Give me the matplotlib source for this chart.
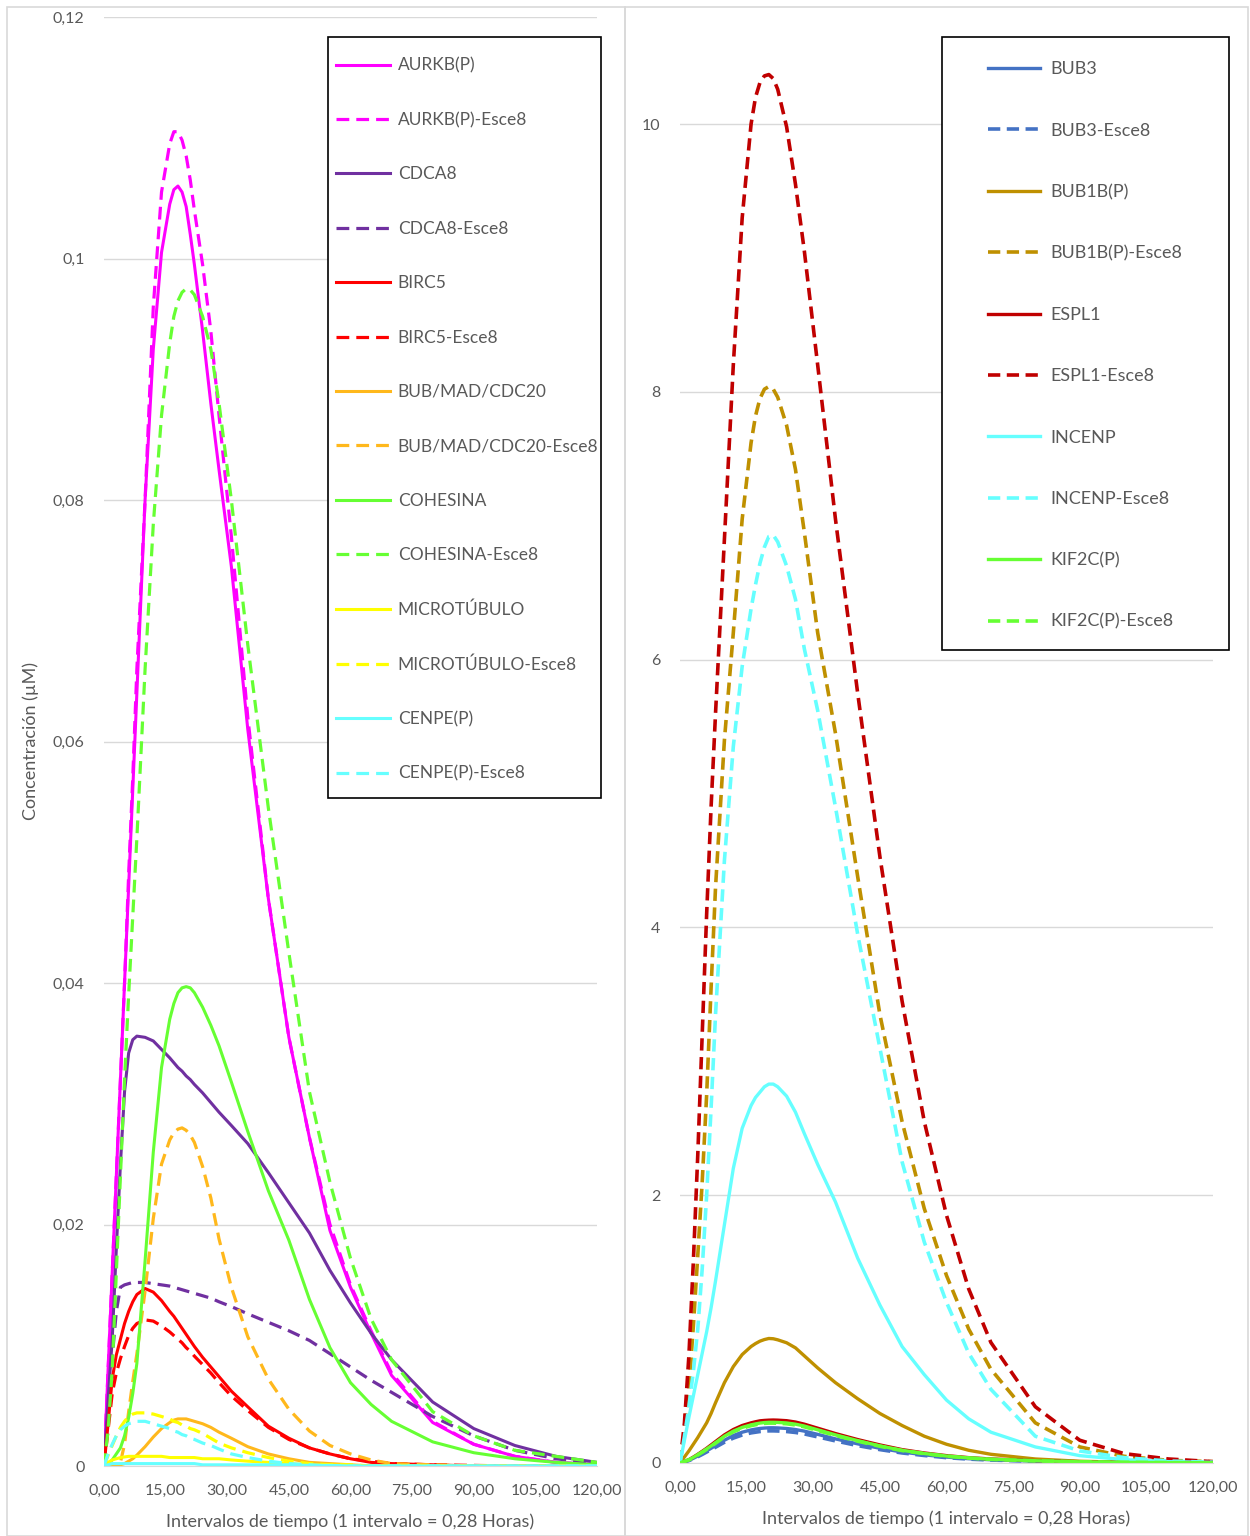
import matplotlib
matplotlib.use("Agg")
import matplotlib.pyplot as plt
from matplotlib.patches import Rectangle
from matplotlib.ticker import FuncFormatter, MultipleLocator

plt.rcParams['font.family'] = ['Lato', 'DejaVu Sans']

# time axis (intervals), shared by every series
t = [0, 1, 2, 3, 4, 5, 6, 7, 8, 10, 12, 14, 16, 17, 18, 19, 20, 21, 22, 24, 26, 28, 31, 35,
     40, 45, 50, 55, 60, 65, 70, 80, 90, 100, 110, 120]

# ---- left chart (µM) ----
aurkb = [0, 0.008, 0.016, 0.024, 0.032, 0.040, 0.048, 0.056, 0.064, 0.080, 0.0925, 0.1005, 0.1045, 0.1057,
         0.106, 0.1055, 0.1043, 0.102, 0.0995, 0.094, 0.088, 0.0825, 0.0745, 0.061,
         0.047, 0.0355, 0.0272, 0.0195, 0.0148, 0.011, 0.0075, 0.0036, 0.0018, 0.0008, 0.0003, 0.0001]
aurkb_e8 = [0, 0.008, 0.016, 0.024, 0.032, 0.040, 0.049, 0.057, 0.066, 0.080, 0.096, 0.1055, 0.1095, 0.1105,
            0.1105, 0.1098, 0.1085, 0.1065, 0.104, 0.0995, 0.094, 0.087, 0.077, 0.062,
            0.047, 0.0355, 0.0272, 0.020, 0.015, 0.0112, 0.0077, 0.0037, 0.0018, 0.0008, 0.0003, 0.0001]
cdca8 = [0, 0.0055, 0.0105, 0.018, 0.025, 0.031, 0.0342, 0.0353, 0.0356, 0.0355, 0.0352, 0.0345, 0.0338, 0.0334,
         0.033, 0.0327, 0.0323, 0.032, 0.0316, 0.0309, 0.0301, 0.0293, 0.0282, 0.0267,
         0.0243, 0.0218, 0.0193, 0.0162, 0.0135, 0.011, 0.0088, 0.0053, 0.0031, 0.0017, 0.0008, 0.0003]
cdca8_e8 = [0, 0.0045, 0.009, 0.0128, 0.0148, 0.015, 0.0151, 0.0152, 0.0152, 0.0152, 0.0151, 0.015, 0.0149, 0.0148,
            0.0147, 0.0146, 0.0145, 0.0144, 0.0143, 0.0141, 0.0139, 0.0136, 0.0132, 0.0126,
            0.0119, 0.0112, 0.0104, 0.0093, 0.0082, 0.0071, 0.0061, 0.0041, 0.0025, 0.0013, 0.0006, 0.0002]
birc5 = [0, 0.0035, 0.0072, 0.0092, 0.0105, 0.0118, 0.0128, 0.0136, 0.0142, 0.0147, 0.0144, 0.0137, 0.0128, 0.0124,
         0.0119, 0.0114, 0.0109, 0.0104, 0.0099, 0.009, 0.0082, 0.0074, 0.0062, 0.0049,
         0.0033, 0.0023, 0.0015, 0.001, 0.0006, 0.0003, 0.0002, 0.0001, 0, 0, 0, 0]
birc5_e8 = [0, 0.003, 0.006, 0.0077, 0.0089, 0.0099, 0.0108, 0.0114, 0.0118, 0.0121, 0.012, 0.0116, 0.0111, 0.0108,
            0.0105, 0.0102, 0.0098, 0.0095, 0.0091, 0.0084, 0.0077, 0.0069, 0.0058, 0.0046,
            0.0032, 0.0022, 0.0015, 0.001, 0.0006, 0.0004, 0.0002, 0.0001, 0.00005, 0, 0, 0]
bubmad = [0, 0, 0, 0, 0.0001, 0.0002, 0.0004, 0.0006, 0.0009, 0.0016, 0.0024, 0.0031, 0.0036, 0.0038,
          0.0039, 0.0039, 0.0039, 0.0038, 0.0037, 0.0035, 0.0032, 0.0028, 0.0023, 0.0016,
          0.001, 0.0006, 0.0003, 0.0002, 0.0001, 0, 0, 0, 0, 0, 0, 0]
bubmad_e8 = [0, 0, 0, 0, 0.0003, 0.0018, 0.0045, 0.007, 0.0093, 0.0145, 0.0205, 0.025, 0.027, 0.0276,
             0.0279, 0.028, 0.0278, 0.0274, 0.0268, 0.0248, 0.0222, 0.0188, 0.0148, 0.0107,
             0.0072, 0.0047, 0.0029, 0.0017, 0.001, 0.0005, 0.0002, 0.0001, 0, 0, 0, 0]
cohesina = [0, 0.0002, 0.0005, 0.001, 0.0015, 0.0025, 0.004, 0.006, 0.0085, 0.017, 0.026, 0.033, 0.037, 0.0383,
            0.0392, 0.0396, 0.0397, 0.0396, 0.0392, 0.038, 0.0365, 0.0348, 0.0318, 0.0277,
            0.0228, 0.0187, 0.0138, 0.0098, 0.0069, 0.0051, 0.0037, 0.002, 0.0011, 0.0006, 0.0003, 0.0001]
cohesina_e8 = [0, 0.003, 0.008, 0.016, 0.024, 0.032, 0.039, 0.0455, 0.052, 0.066, 0.078, 0.087, 0.093, 0.0952,
               0.0965, 0.0972, 0.0975, 0.0974, 0.097, 0.0952, 0.0925, 0.088, 0.080, 0.068,
               0.0545, 0.0425, 0.031, 0.0235, 0.0172, 0.0122, 0.0088, 0.0045, 0.0025, 0.0013, 0.0008, 0.0003]
microtubulo = [0, 0.0003, 0.0005, 0.0006, 0.0007, 0.00075, 0.0008, 0.0008, 0.0008, 0.0008, 0.0008, 0.0008, 0.0007, 0.0007,
               0.0007, 0.0007, 0.0007, 0.0007, 0.0007, 0.0006, 0.0006, 0.0006, 0.0005, 0.0004,
               0.0003, 0.0002, 0.0001, 0.0001, 0.00005, 0, 0, 0, 0, 0, 0, 0]
microtubulo_e8 = [0, 0.0009, 0.0017, 0.0025, 0.0032, 0.0037, 0.0041, 0.0043, 0.0044, 0.0044, 0.0043, 0.0041, 0.0039, 0.0037,
                  0.0036, 0.0034, 0.0033, 0.0031, 0.003, 0.0027, 0.0023, 0.0019, 0.0015, 0.0011,
                  0.0007, 0.0004, 0.0002, 0.0001, 0.0001, 0, 0, 0, 0, 0, 0, 0]
cenpe = [0, 0.0001, 0.0002, 0.0002, 0.0002, 0.0002, 0.0002, 0.0002, 0.0002, 0.0002, 0.0002, 0.0002, 0.0002, 0.0002,
         0.0002, 0.0002, 0.0002, 0.0002, 0.0002, 0.0001, 0.0001, 0.0001, 0.0001, 0.0001,
         0.0001, 0.0001, 0.00005, 0.00005, 0, 0, 0, 0, 0, 0, 0, 0]
cenpe_e8 = [0, 0.001, 0.0018, 0.0025, 0.003, 0.0033, 0.0035, 0.0036, 0.0037, 0.0037, 0.0035, 0.0033, 0.0031, 0.0029,
            0.0028, 0.0026, 0.0025, 0.0023, 0.0022, 0.0019, 0.0017, 0.0014, 0.001, 0.0007,
            0.0004, 0.0002, 0.0001, 0, 0, 0, 0, 0, 0, 0, 0, 0]

# ---- right chart ----
bub3 = [0, 0.01, 0.02, 0.035, 0.052, 0.07, 0.09, 0.11, 0.13, 0.17, 0.205, 0.23, 0.247, 0.253,
        0.258, 0.261, 0.263, 0.263, 0.262, 0.258, 0.25, 0.238, 0.214, 0.18,
        0.143, 0.11, 0.082, 0.061, 0.044, 0.032, 0.024, 0.014, 0.008, 0.004, 0.002, 0.001]
bub3_e8 = [0, 0.009, 0.018, 0.032, 0.047, 0.064, 0.082, 0.1, 0.118, 0.155, 0.186, 0.209, 0.225, 0.23,
           0.235, 0.238, 0.24, 0.24, 0.239, 0.235, 0.228, 0.217, 0.195, 0.165,
           0.13, 0.1, 0.075, 0.056, 0.04, 0.029, 0.022, 0.013, 0.007, 0.004, 0.002, 0.001]
bub1b = [0, 0.045, 0.09, 0.14, 0.19, 0.245, 0.3, 0.37, 0.45, 0.6, 0.72, 0.81, 0.87, 0.892,
         0.91, 0.922, 0.93, 0.928, 0.92, 0.898, 0.86, 0.8, 0.71, 0.6,
         0.48, 0.37, 0.28, 0.2, 0.14, 0.095, 0.065, 0.03, 0.013, 0.006, 0.003, 0.001]
bub1b_e8 = [0, 0.25, 0.55, 1.02, 1.55, 2.1, 2.75, 3.55, 4.3, 5.4, 6.2, 7.05, 7.62, 7.82,
            7.95, 8.02, 8.04, 8.02, 7.96, 7.75, 7.42, 6.95, 6.2, 5.45,
            4.38, 3.35, 2.55, 1.9, 1.4, 1.0, 0.7, 0.3, 0.12, 0.05, 0.02, 0.01]
espl1 = [0, 0.012, 0.025, 0.044, 0.065, 0.087, 0.11, 0.135, 0.16, 0.21, 0.25, 0.28, 0.3, 0.308,
         0.315, 0.318, 0.32, 0.321, 0.32, 0.316, 0.306, 0.29, 0.26, 0.22,
         0.175, 0.135, 0.1, 0.075, 0.055, 0.04, 0.03, 0.018, 0.01, 0.006, 0.004, 0.002]
espl1_e8 = [0, 0.3, 0.8, 1.5, 2.3, 3.2, 4.1, 4.9, 5.6, 6.9, 8.2, 9.3, 10.0, 10.2,
            10.31, 10.36, 10.37, 10.34, 10.26, 9.98, 9.55, 9.05, 8.2, 7.05,
            5.75, 4.53, 3.45, 2.55, 1.85, 1.3, 0.9, 0.42, 0.17, 0.07, 0.03, 0.01]
incenp = [0, 0.17, 0.34, 0.5, 0.66, 0.82, 0.98, 1.16, 1.36, 1.78, 2.2, 2.5, 2.67, 2.73,
          2.77, 2.81, 2.83, 2.83, 2.81, 2.74, 2.62, 2.46, 2.23, 1.95,
          1.53, 1.18, 0.87, 0.66, 0.47, 0.33, 0.23, 0.12, 0.055, 0.025, 0.01, 0.005]
incenp_e8 = [0, 0.2, 0.42, 0.68, 1.0, 1.45, 2.0, 2.65, 3.35, 4.5, 5.35, 5.95, 6.38, 6.56,
             6.72, 6.84, 6.92, 6.93, 6.88, 6.7, 6.45, 6.08, 5.62, 4.9,
             3.95, 3.1, 2.25, 1.65, 1.2, 0.82, 0.55, 0.2, 0.09, 0.04, 0.015, 0.005]
kif2c = [0, 0.012, 0.024, 0.042, 0.062, 0.083, 0.105, 0.128, 0.152, 0.2, 0.238, 0.266, 0.285, 0.292,
         0.298, 0.302, 0.304, 0.304, 0.303, 0.299, 0.29, 0.276, 0.248, 0.21,
         0.167, 0.128, 0.095, 0.071, 0.052, 0.038, 0.028, 0.017, 0.009, 0.005, 0.003, 0.002]
kif2c_e8 = [0, 0.011, 0.023, 0.04, 0.06, 0.08, 0.102, 0.125, 0.148, 0.195, 0.233, 0.26, 0.279, 0.286,
            0.292, 0.296, 0.298, 0.298, 0.297, 0.293, 0.284, 0.27, 0.243, 0.206,
            0.163, 0.125, 0.093, 0.07, 0.051, 0.037, 0.027, 0.016, 0.009, 0.005, 0.003, 0.002]

left_series = [
    ("AURKB(P)", aurkb, "#FF00FF", "-"),
    ("AURKB(P)-Esce8", aurkb_e8, "#FF00FF", "--"),
    ("CDCA8", cdca8, "#7030A0", "-"),
    ("CDCA8-Esce8", cdca8_e8, "#7030A0", "--"),
    ("BIRC5", birc5, "#FF0000", "-"),
    ("BIRC5-Esce8", birc5_e8, "#FF0000", "--"),
    ("BUB/MAD/CDC20", bubmad, "#FFB81C", "-"),
    ("BUB/MAD/CDC20-Esce8", bubmad_e8, "#FFB81C", "--"),
    ("COHESINA", cohesina, "#66FF33", "-"),
    ("COHESINA-Esce8", cohesina_e8, "#66FF33", "--"),
    ("MICROTÚBULO", microtubulo, "#FFFF00", "-"),
    ("MICROTÚBULO-Esce8", microtubulo_e8, "#FFFF00", "--"),
    ("CENPE(P)", cenpe, "#66FFFF", "-"),
    ("CENPE(P)-Esce8", cenpe_e8, "#66FFFF", "--"),
]
right_series = [
    ("BUB3", bub3, "#4472C4", "-"),
    ("BUB3-Esce8", bub3_e8, "#4472C4", "--"),
    ("BUB1B(P)", bub1b, "#BF9000", "-"),
    ("BUB1B(P)-Esce8", bub1b_e8, "#BF9000", "--"),
    ("ESPL1", espl1, "#C00000", "-"),
    ("ESPL1-Esce8", espl1_e8, "#C00000", "--"),
    ("INCENP", incenp, "#66FFFF", "-"),
    ("INCENP-Esce8", incenp_e8, "#66FFFF", "--"),
    ("KIF2C(P)", kif2c, "#66FF33", "-"),
    ("KIF2C(P)-Esce8", kif2c_e8, "#66FF33", "--"),
]

W, H = 1250, 1536
fig = plt.figure(figsize=(W / 100, H / 100), dpi=100)
grey = "#595959"


def fx(px):
    return px / W


def fy(py):
    return 1 - py / H


def style_axes(ax):
    for s in ["top", "right", "left"]:
        ax.spines[s].set_visible(False)
    ax.spines["bottom"].set_color("#D9D9D9")
    ax.yaxis.grid(True, color="#D9D9D9", lw=1.0)
    ax.set_axisbelow(True)
    ax.tick_params(length=0, labelsize=11.5, labelcolor=grey)
    ax.tick_params(axis="x", pad=13)
    ax.set_xlim(0, 120)
    ax.xaxis.set_major_locator(MultipleLocator(15))
    ax.xaxis.set_major_formatter(FuncFormatter(lambda v, p: f"{v:.2f}".replace(".", ",")))
    ax.set_xlabel("Intervalos de tiempo (1 intervalo = 0,28 Horas)", fontsize=13, color=grey, labelpad=11)


def yfmt(v, p):
    s = f"{v:.2f}".rstrip("0").rstrip(".")
    return s.replace(".", ",")


# panel outlines
fig.add_artist(Rectangle((fx(7), 0), fx(625 - 7), fy(7), transform=fig.transFigure,
                         fill=False, ec="#D9D9D9", lw=1.2))
fig.add_artist(Rectangle((fx(625), 0), fx(1248 - 625), fy(7), transform=fig.transFigure,
                         fill=False, ec="#D9D9D9", lw=1.2))

# left chart
ax1 = fig.add_axes([fx(104), fy(1466), fx(597 - 104), (1466 - 17) / H])
for label, vals, col, ls in left_series:
    if ls == "-":
        ax1.plot(t, vals, color=col, lw=2.2, label=label)
    else:
        ax1.plot(t, vals, color=col, lw=2.3, dashes=(4, 2.2), label=label)
style_axes(ax1)
ax1.set_ylim(0, 0.12)
ax1.yaxis.set_major_locator(MultipleLocator(0.02))
ax1.yaxis.set_major_formatter(FuncFormatter(yfmt))
ax1.tick_params(axis="y", pad=14)
ax1.set_ylabel("Concentración (µM)", fontsize=13, color=grey, labelpad=10)

ax1.add_patch(Rectangle((fx(328), fy(798)), fx(601 - 328), (798 - 37) / H, transform=fig.transFigure,
                        fc="white", ec="black", lw=1.2, zorder=10, clip_on=False))
leg1 = ax1.legend(loc="upper left", bbox_to_anchor=(fx(336), fy(57.5)), bbox_transform=fig.transFigure,
                  frameon=False, borderpad=0, borderaxespad=0, fontsize=12.5, handlelength=3.1,
                  handletextpad=0.45, labelspacing=2.21, labelcolor=grey)
leg1.set_zorder(11)

# right chart
ax2 = fig.add_axes([fx(680), fy(1463), fx(1213 - 680), (1463 - 17) / H])
for label, vals, col, ls in right_series:
    if ls == "-":
        ax2.plot(t, vals, color=col, lw=2.4, label=label)
    else:
        ax2.plot(t, vals, color=col, lw=2.6, dashes=(3.4, 1.8), label=label)
style_axes(ax2)
ax2.set_ylim(0, 10.8)
ax2.yaxis.set_major_locator(MultipleLocator(2))
ax2.yaxis.set_major_formatter(FuncFormatter(yfmt))
ax2.tick_params(axis="y", pad=14)

ax2.add_patch(Rectangle((fx(942), fy(650)), fx(1229 - 942), (650 - 37) / H, transform=fig.transFigure,
                        fc="white", ec="black", lw=1.2, zorder=10, clip_on=False))
leg2 = ax2.legend(loc="upper left", bbox_to_anchor=(fx(988), fy(61.5)), bbox_transform=fig.transFigure,
                  frameon=False, borderpad=0, borderaxespad=0, fontsize=13, handlelength=2.9,
                  handletextpad=0.55, labelspacing=2.51, labelcolor=grey)
leg2.set_zorder(11)

fig.savefig("out.png", dpi=100)
